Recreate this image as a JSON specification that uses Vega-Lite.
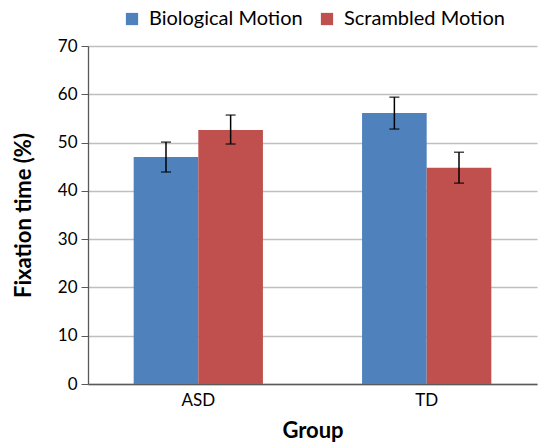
{
  "$schema": "https://vega.github.io/schema/vega-lite/v6.json",
  "width": 449,
  "height": 338,
  "autosize": {"type": "none"},
  "padding": {"left": 88, "top": 46, "right": 1, "bottom": 64},
  "background": "white",
  "config": {
    "font": "Lato",
    "view": {"stroke": null},
    "axis": {"labelFont": "Lato", "titleFont": "Lato", "labelColor": "#000000", "titleColor": "#000000"}
  },
  "data": {
    "values": [
      {"group": "ASD", "condition": "Biological Motion", "value": 47.0, "lo": 43.9, "hi": 50.1},
      {"group": "ASD", "condition": "Scrambled Motion", "value": 52.6, "lo": 49.7, "hi": 55.7},
      {"group": "TD", "condition": "Biological Motion", "value": 56.1, "lo": 52.8, "hi": 59.4},
      {"group": "TD", "condition": "Scrambled Motion", "value": 44.8, "lo": 41.6, "hi": 48.0}
    ]
  },
  "encoding": {
    "x": {
      "field": "group", "type": "nominal",
      "scale": {"paddingInner": 0.434, "paddingOuter": 0.2},
      "axis": {
        "title": "Group", "titleFontSize": 22, "titleFontWeight": "bold", "titlePadding": 12,
        "labelAngle": 0, "labelFontSize": 17, "labelPadding": 8,
        "ticks": false, "domainColor": "#595959", "domainWidth": 1.3
      }
    },
    "xOffset": {"field": "condition", "type": "nominal"}
  },
  "layer": [
    {
      "mark": {"type": "bar"},
      "encoding": {
        "y": {
          "field": "value", "type": "quantitative",
          "scale": {"domain": [0, 70]},
          "axis": {
            "title": "Fixation time (%)", "titleFontSize": 22, "titleFontWeight": "bold", "titlePadding": 22,
            "values": [0, 10, 20, 30, 40, 50, 60, 70],
            "labelFontSize": 17, "labelPadding": 4, "tickSize": 7, "tickColor": "#595959",
            "domainColor": "#595959", "domainWidth": 1.3,
            "grid": true, "gridColor": "#BFBFBF", "gridWidth": 1.3
          }
        },
        "color": {
          "field": "condition", "type": "nominal",
          "scale": {"domain": ["Biological Motion", "Scrambled Motion"], "range": ["#4F81BD", "#C0504D"]},
          "legend": {
            "title": null, "orient": "none", "direction": "horizontal",
            "legendX": 34, "legendY": -37,
            "symbolType": "square", "symbolSize": 150, "symbolStrokeWidth": 0,
            "labelFontSize": 20, "labelColor": "#000000", "labelLimit": 400, "columnPadding": 14, "labelOffset": 7
          }
        }
      }
    },
    {
      "mark": {"type": "rule", "color": "#000000", "strokeWidth": 1.5},
      "encoding": {
        "y": {"field": "lo", "type": "quantitative"},
        "y2": {"field": "hi"}
      }
    },
    {
      "mark": {"type": "tick", "color": "#000000", "size": 10, "thickness": 1.5},
      "encoding": {"y": {"field": "lo", "type": "quantitative"}}
    },
    {
      "mark": {"type": "tick", "color": "#000000", "size": 10, "thickness": 1.5},
      "encoding": {"y": {"field": "hi", "type": "quantitative"}}
    }
  ]
}
